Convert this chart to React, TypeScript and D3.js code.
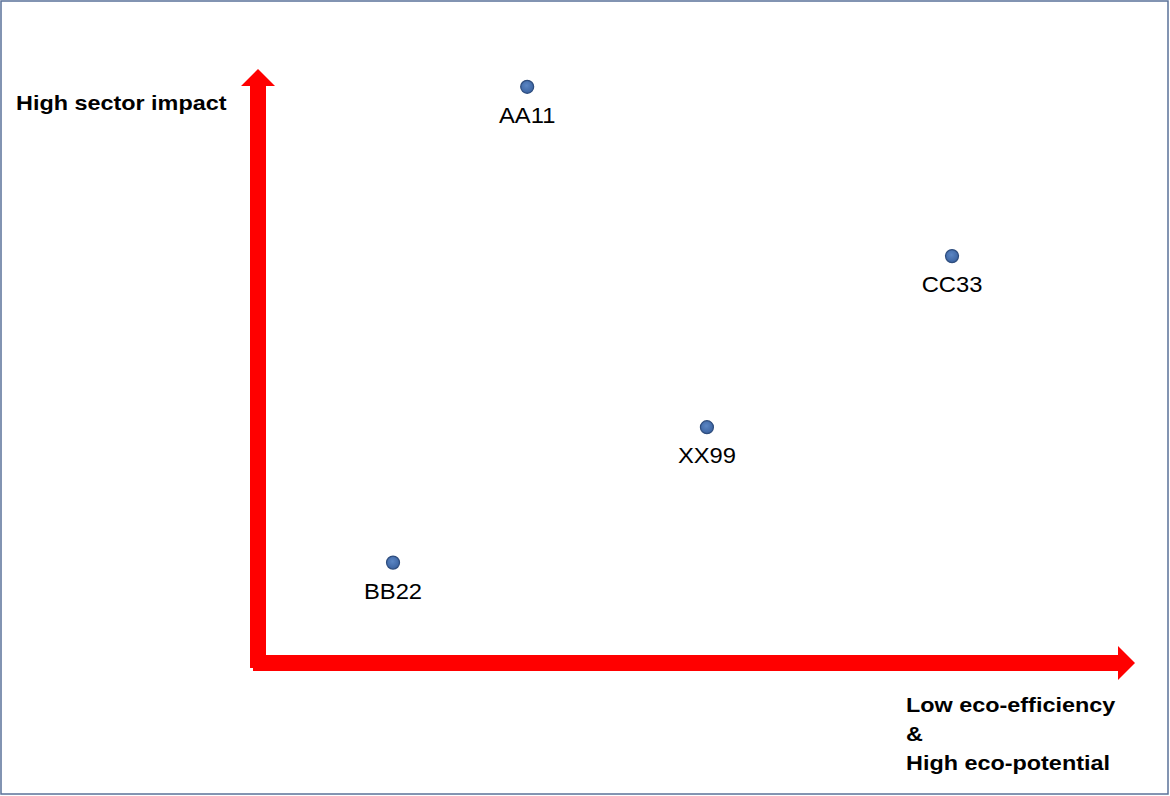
import React from "react";
import * as d3 from "d3";

const names = ["AA11", "BB22", "CC33", "XX99"];
const xValues = [31.3, 15.7, 80.7, 52.2];
const yValues = [97.0, 16.9, 68.5, 39.7];
const yAxisLabel = ["High sector impact"];
const xAxisLabel = ["Low eco-efficiency", "&", "High eco-potential"];

const W = 1170;
const H = 796;
const SX = 1.17;
const SXP = 1.08;

export default function App() {
  const x = d3.scaleLinear().domain([0, 100]).range([258, 1118]);
  const y = d3.scaleLinear().domain([0, 100]).range([663, 69]);
  const font = "Liberation Sans, Arial, Helvetica, sans-serif";

  const x0 = x(0);
  const y0 = y(0);
  const shaft = 16;
  const headHalf = 17;
  const headLen = 17;
  const xEnd = x(100);
  const yEnd = y(100);

  const vArrow = d3.path();
  vArrow.moveTo(x0 - shaft / 2, y0 + shaft / 2 - 3);
  vArrow.lineTo(x0 - shaft / 2, yEnd + headLen);
  vArrow.lineTo(x0 - headHalf, yEnd + headLen);
  vArrow.lineTo(x0, yEnd);
  vArrow.lineTo(x0 + headHalf, yEnd + headLen);
  vArrow.lineTo(x0 + shaft / 2, yEnd + headLen);
  vArrow.lineTo(x0 + shaft / 2, y0 + shaft / 2 - 3);
  vArrow.closePath();

  const hArrow = d3.path();
  hArrow.moveTo(x0 - 5, y0 - shaft / 2);
  hArrow.lineTo(xEnd, y0 - shaft / 2);
  hArrow.lineTo(xEnd, y0 - headHalf);
  hArrow.lineTo(xEnd + headLen, y0);
  hArrow.lineTo(xEnd, y0 + headHalf);
  hArrow.lineTo(xEnd, y0 + shaft / 2);
  hArrow.lineTo(x0 - 5, y0 + shaft / 2);
  hArrow.closePath();

  return (
    <svg
      width={W}
      height={H}
      style={{ position: "absolute", left: 0, top: 0, background: "#fff" }}
    >
      <defs>
        <radialGradient id="dot" cx="45%" cy="40%" r="60%">
          <stop offset="0%" stopColor="#5b86c4" />
          <stop offset="100%" stopColor="#3a62a0" />
        </radialGradient>
      </defs>
      <rect x={1} y={1} width={W - 3} height={H - 3} fill="#fff" stroke="#5a7299" strokeWidth={1.5} />
      <path d={vArrow.toString()} fill="#ff0000" />
      <path d={hArrow.toString()} fill="#ff0000" />
      <text
        transform={`translate(16,110) scale(${SX},1)`}
        fontFamily={font}
        fontWeight="bold"
        fontSize={20}
        fill="#000"
      >
        {yAxisLabel[0]}
      </text>
      {xAxisLabel.map((t, i) => (
        <text
          key={t}
          transform={`translate(906,${712 + i * 29}) scale(${SX},1)`}
          fontFamily={font}
          fontWeight="bold"
          fontSize={20}
          fill="#000"
        >
          {t}
        </text>
      ))}
      {names.map((n, i) => (
        <g key={n}>
          <circle cx={x(xValues[i])} cy={y(yValues[i])} r={6.5} fill="url(#dot)" stroke="#2e4d7e" strokeWidth={1.2} />
          <text
            transform={`translate(${x(xValues[i])},${y(yValues[i]) + 36}) scale(${SXP},1)`}
            textAnchor="middle"
            fontFamily={font}
            fontSize={22}
            fill="#000"
          >
            {n}
          </text>
        </g>
      ))}
    </svg>
  );
}
